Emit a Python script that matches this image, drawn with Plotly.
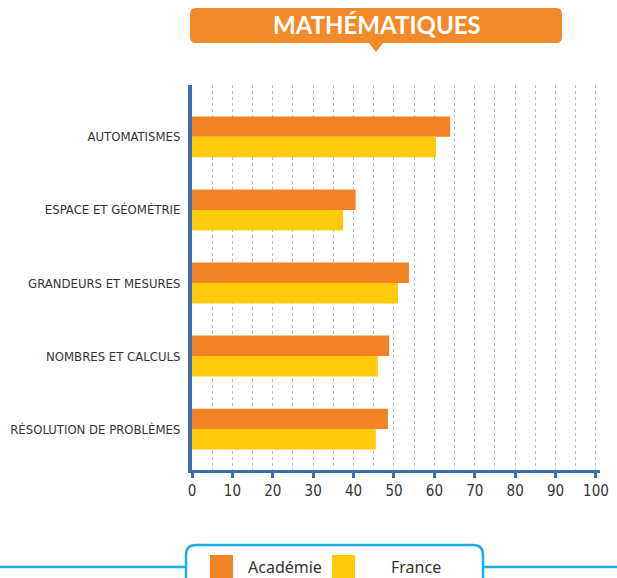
import plotly.graph_objects as go

categories = ["AUTOMATISMES", "ESPACE ET GÉOMÉTRIE", "GRANDEURS ET MESURES",
              "NOMBRES ET CALCULS", "RÉSOLUTION DE PROBLÈMES"]
academie = [63.9, 40.5, 53.7, 48.8, 48.5]
france = [60.4, 37.4, 51.0, 46.0, 45.5]
series_names = ["Académie", "France"]
title_text = "MATHÉMATIQUES"
x_ticks = list(range(0, 101, 10))

ORANGE = "#F28324"
YELLOW = "#FFCA0A"
BLUE = "#3A6BB5"
CYAN = "#1AAEE8"
W, H = 617, 578
L, R, T, B = 192, 17, 85, 108
PW, PH = W - L - R, H - T - B

def px(x):
    return (x - L) / PW

def py(y):
    return (H - B - y) / PH

fig = go.Figure()
fig.add_trace(go.Bar(y=categories, x=academie, orientation="h", name=series_names[0],
                     marker=dict(color=ORANGE, line=dict(width=0)), showlegend=False))
fig.add_trace(go.Bar(y=categories, x=france, orientation="h", name=series_names[1],
                     marker=dict(color=YELLOW, line=dict(width=0)), showlegend=False))

narrow = "Liberation Sans Narrow, DejaVu Sans Condensed, Arial Narrow, sans-serif"

shapes = []
# title box with rounded corners + pointer
x0, x1, y0, y1, r = 190, 562, 8, 43, 6
cx = 376
path_pts = (f"M {px(x0+r)},{py(y0)} L {px(x1-r)},{py(y0)} Q {px(x1)},{py(y0)} {px(x1)},{py(y0+r)} "
            f"L {px(x1)},{py(y1-r)} Q {px(x1)},{py(y1)} {px(x1-r)},{py(y1)} "
            f"L {px(cx+7)},{py(y1)} L {px(cx)},{py(y1+9)} L {px(cx-7)},{py(y1)} "
            f"L {px(x0+r)},{py(y1)} Q {px(x0)},{py(y1)} {px(x0)},{py(y1-r)} "
            f"L {px(x0)},{py(y0+r)} Q {px(x0)},{py(y0)} {px(x0+r)},{py(y0)} Z")
shapes.append(dict(type="path", xref="paper", yref="paper", path=path_pts,
                   fillcolor="#F28A2A", line=dict(width=0), layer="above"))

# legend frame
lx0, lx1, ly0, ly1, lr = 186, 483, 545, 590, 10
shapes.append(dict(type="line", xref="paper", yref="paper", x0=px(0), x1=px(lx0), y0=py(567), y1=py(567),
                   line=dict(color=CYAN, width=2.5)))
shapes.append(dict(type="line", xref="paper", yref="paper", x0=px(lx1), x1=px(W), y0=py(567), y1=py(567),
                   line=dict(color=CYAN, width=2.5)))
leg_path = (f"M {px(lx0)},{py(ly1)} L {px(lx0)},{py(ly0+lr)} Q {px(lx0)},{py(ly0)} {px(lx0+lr)},{py(ly0)} "
            f"L {px(lx1-lr)},{py(ly0)} Q {px(lx1)},{py(ly0)} {px(lx1)},{py(ly0+lr)} L {px(lx1)},{py(ly1)}")
shapes.append(dict(type="path", xref="paper", yref="paper", path=leg_path,
                   fillcolor="white", line=dict(color=CYAN, width=2.5)))
# legend swatches
shapes.append(dict(type="rect", xref="paper", yref="paper", x0=px(210), x1=px(233), y0=py(555), y1=py(580),
                   fillcolor=ORANGE, line=dict(width=0)))
shapes.append(dict(type="rect", xref="paper", yref="paper", x0=px(332), x1=px(355), y0=py(555), y1=py(580),
                   fillcolor=YELLOW, line=dict(width=0)))

annotations = [
    dict(text=f"<b>{title_text}</b>", xref="paper", yref="paper", x=px(377), y=py(25),
         showarrow=False, font=dict(family="Lato, Open Sans, sans-serif", size=24, color="white"),
         xanchor="center", yanchor="middle"),
    dict(text=series_names[0], xref="paper", yref="paper", x=px(246), y=py(567),
         showarrow=False, font=dict(family="Noto Sans, Open Sans, sans-serif", size=16, color="#333333"),
         xanchor="left", yanchor="middle"),
    dict(text=series_names[1], xref="paper", yref="paper", x=px(389), y=py(567),
         showarrow=False, font=dict(family="Noto Sans, Open Sans, sans-serif", size=16, color="#333333"),
         xanchor="left", yanchor="middle"),
]

fig.update_layout(
    width=W, height=H,
    margin=dict(l=L, r=R, t=T, b=B, autoexpand=False),
    paper_bgcolor="white", plot_bgcolor="white",
    barmode="group", bargap=0.44, bargroupgap=0,
    shapes=shapes, annotations=annotations,
    xaxis=dict(range=[0, 101], tickvals=x_ticks, ticktext=[str(v) for v in x_ticks],
               automargin=False,
               showgrid=True, gridcolor="#BBBBBB", gridwidth=1, griddash="dot",
               minor=dict(dtick=5, tick0=0, showgrid=True, gridcolor="#BBBBBB", gridwidth=1, griddash="dot"),
               showline=True, linecolor=BLUE, linewidth=3,
               ticks="outside", ticklen=5, tickwidth=3, tickcolor=BLUE,
               tickfont=dict(family=narrow, size=15, color="#333333"),
               zeroline=False, fixedrange=True),
    yaxis=dict(categoryorder="array", categoryarray=categories, automargin=False,
               range=[4.56, -0.71], showgrid=False, zeroline=False,
               showline=True, linecolor=BLUE, linewidth=4,
               ticks="", ticklabelstandoff=5,
               tickfont=dict(family=narrow, size=13, color="#333333"), fixedrange=True),
)

fig.write_html("out.html", config={"displayModeBar": False},
               post_script="document.body.style.margin='0';document.body.style.overflow='hidden';")
